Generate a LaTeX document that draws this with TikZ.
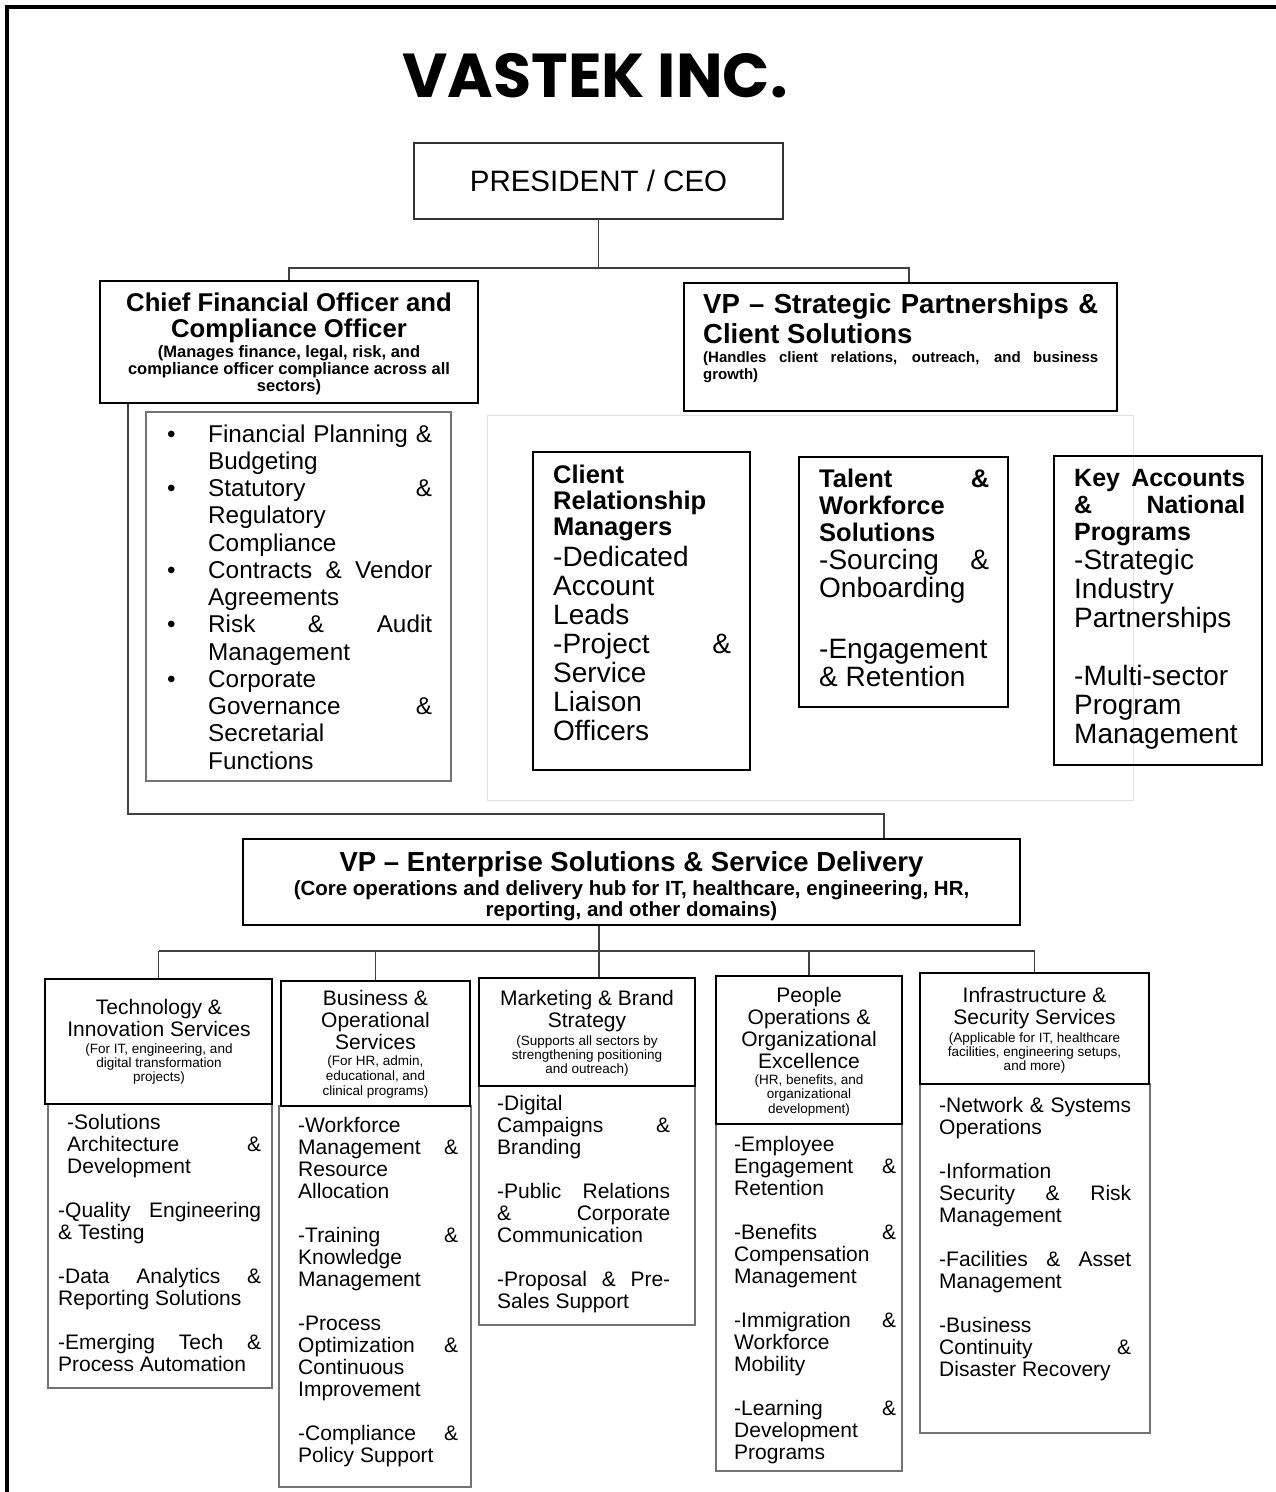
\documentclass[tikz,border=0pt]{standalone}
\usepackage{fontspec}
\setmainfont{Liberation Sans}
\newfontfamily\titlefont{Poppins}
\usetikzlibrary{positioning}

\newcommand\fsz[2]{\fontsize{#1}{#2}\selectfont}
\newcommand\gap{\par\mbox{}\par}
\newcommand\bul{\par\noindent\hangindent=44pt\hangafter=1\makebox[44pt][l]{\hspace{3pt}\textbullet}}

\begin{document}
\begin{tikzpicture}[x=1pt,y=-1pt,
  frame/.style={draw=black, line width=3.5pt},
  topbox/.style={draw=black!80, line width=1.8pt, inner sep=0pt},
  mainbox/.style={draw=black, line width=2.4pt, inner sep=0pt},
  hdrbox/.style={draw=black, line width=2pt, inner sep=0pt, fill=white},
  listbox/.style={draw=black!55, line width=1.2pt, inner sep=0pt},
  conn/.style={draw=black!75, line width=1.5pt},
  txt/.style={inner sep=0pt, anchor=base west},
  ctxt/.style={inner sep=0pt, anchor=base}]

\useasboundingbox (0,0) rectangle (1276,1492);
\clip (0,0) rectangle (1276,1492);
\draw[frame] (7,7) rectangle (1300,1520);

% Title
\node[anchor=base] (title) at (595,97) {\titlefont\bfseries\fsz{62}{64}VASTEK INC.};

% Top level boxes
\node[topbox, minimum width=369pt, minimum height=76pt] (ceo) at (598.5,181) {\fsz{29.5}{30}PRESIDENT / CEO};
\node[mainbox, minimum width=378pt, minimum height=122pt] (cfo) at (289,342) {};
\node[mainbox, minimum width=433pt, minimum height=128pt] (vpsp) at (900.5,347) {};

\node[ctxt] (cfoTxt) at (289,311) {\parbox[t]{370pt}{\centering\bfseries
  \fsz{25.7}{26}Chief Financial Officer and\\Compliance Officer\par
  \vspace{2pt}\fsz{16.5}{17}(Manages finance, legal, risk, and\\compliance officer compliance across all\\sectors)}};
\node[txt] (vpspTxt) at (703,313) {\parbox[t]{395pt}{\bfseries
  \fsz{27.5}{30}VP – Strategic Partnerships \&\linebreak Client Solutions\par
  \vspace{2pt}\fsz{15}{17}(Handles client relations, outreach, and business\linebreak growth)}};

% Reporting lines from the CEO
\draw[conn] (ceo.south) -- ++(0,48) coordinate (split);
\draw[conn] (cfo.north) |- (split) -| ([xshift=8.5pt]vpsp.north);

% CFO duties
\node[listbox, minimum width=305pt, minimum height=369pt] (cfoList) at (298.5,596.5) {};
\node[txt] (cfoListTxt) at (164,442) {\parbox[t]{268pt}{\fsz{24.3}{27.25}%
  \bul Financial Planning \&\linebreak Budgeting
  \bul Statutory \&\linebreak Regulatory\linebreak Compliance
  \bul Contracts \& Vendor\linebreak Agreements
  \bul Risk \& Audit\linebreak Management
  \bul Corporate\linebreak Governance \&\linebreak Secretarial\linebreak Functions}};

% Client solutions group
\node[draw=black!12, line width=1pt, minimum width=646pt, minimum height=385pt, inner sep=0pt] (clientGrp) at (810,607.5) {};
\node[mainbox, minimum width=217pt, minimum height=318pt] (crm) at (641.5,611) {};
\node[mainbox, minimum width=209pt, minimum height=250pt] (talent) at (903.5,582) {};
\node[mainbox, minimum width=208pt, minimum height=309pt] (keyAcc) at (1158,610.5) {};

\node[txt] (crmTxt) at (553,483) {\parbox[t]{178pt}{\bfseries\fsz{25.5}{26}%
  Client\linebreak Relationship\linebreak Managers\par
  \vspace{2pt}\mdseries\fsz{28}{29}-Dedicated\linebreak Account\linebreak Leads\par
  -Project \&\linebreak Service\linebreak Liaison\linebreak Officers}};
\node[txt] (talentTxt) at (819,487) {\parbox[t]{170pt}{\bfseries\fsz{25.5}{27}%
  Talent \&\linebreak Workforce\linebreak Solutions\par
  \mdseries\fsz{28}{28}-Sourcing \&\linebreak Onboarding\par
  \vspace{33pt}-Engagement\linebreak \& Retention}};
\node[txt] (keyAccTxt) at (1074,486) {\parbox[t]{171pt}{\bfseries\fsz{25}{27}%
  Key Accounts\linebreak \& National\linebreak Programs\par
  \mdseries\fsz{28}{29}-Strategic\linebreak Industry\linebreak Partnerships\gap
  -Multi-sector\linebreak Program\linebreak Management}};

% Enterprise delivery
\node[mainbox, minimum width=777pt, minimum height=86pt] (vpe) at (631.5,882) {};
\node[ctxt] (vpeTxt) at (631.5,871.5) {\parbox[t]{760pt}{\centering\bfseries
  \fsz{27.5}{28}VP – Enterprise Solutions \& Service Delivery\par
  \vspace{3pt}\fsz{20.5}{21}(Core operations and delivery hub for IT, healthcare, engineering, HR,\\reporting, and other domains)}};
\draw[conn] ([xshift=-161pt]cfo.south) |- ([xshift=252.5pt,yshift=24pt]vpe.north) -- ([xshift=252.5pt]vpe.north);

% Service lines: detail boxes
\node[listbox, minimum width=224pt, minimum height=284pt] (techList) at (160,1246) {};
\node[listbox, minimum width=192pt, minimum height=381pt] (busList) at (375,1296.5) {};
\node[listbox, minimum width=216pt, minimum height=239pt] (mktList) at (587,1205.5) {};
\node[listbox, minimum width=186pt, minimum height=347pt] (pplList) at (809,1297.5) {};
\node[listbox, minimum width=230pt, minimum height=349pt] (infraList) at (1035,1258.5) {};

% Service lines: headers
\node[hdrbox, minimum width=227pt, minimum height=125pt] (tech) at (158.5,1041.5) {};
\node[hdrbox, minimum width=189pt, minimum height=125pt] (bus) at (375.5,1043.5) {};
\node[hdrbox, minimum width=216pt, minimum height=108pt] (mkt) at (587,1032) {};
\node[hdrbox, minimum width=186pt, minimum height=148pt] (ppl) at (809,1050) {};
\node[hdrbox, minimum width=229pt, minimum height=111pt] (infra) at (1034.5,1028.5) {};

\coordinate (bar) at (0,951);
\draw[conn] ([xshift=-32.5pt]vpe.south) -- ([xshift=12pt]mkt.north);
\draw[conn] (tech.north |- bar) -- (infra.north |- bar);
\foreach \n in {tech,bus,ppl,infra}
  \draw[conn] (\n.north |- bar) -- (\n.north);

\node[ctxt] (techHd) at (159,1014.5) {\parbox[t]{220pt}{\centering\fsz{21}{22}%
  Technology \&\\Innovation Services\par
  \vspace{3pt}\fsz{13.5}{14}(For IT, engineering, and\\digital transformation\\projects)}};
\node[ctxt] (busHd) at (375.5,1005.5) {\parbox[t]{185pt}{\centering\fsz{21}{22}%
  Business \&\\Operational\\Services\par
  \vspace{1pt}\fsz{13.5}{15}(For HR, admin,\\educational, and\\clinical programs)}};
\node[ctxt] (mktHd) at (587,1005.5) {\parbox[t]{210pt}{\centering\fsz{21}{22}%
  Marketing \& Brand\\Strategy\par
  \vspace{3pt}\fsz{13.5}{14}(Supports all sectors by\\strengthening positioning\\and outreach)}};
\node[ctxt] (pplHd) at (809,1002.5) {\parbox[t]{182pt}{\centering\fsz{21}{22}%
  People\\Operations \&\\Organizational\\Excellence\par
  \vspace{1pt}\fsz{13.5}{14.5}(HR, benefits, and\\organizational\\development)}};
\node[ctxt] (infraHd) at (1034.5,1002.5) {\parbox[t]{222pt}{\centering\fsz{21}{22}%
  Infrastructure \&\\Security Services\par
  \vspace{3pt}\fsz{13.5}{14}(Applicable for IT, healthcare\\facilities, engineering setups,\\and more)}};

% Service lines: duties
\node[txt] (techTxt) at (58,1129.5) {\parbox[t]{203pt}{\fsz{21}{22}%
  {\leftskip=9pt -Solutions\linebreak Architecture \&\linebreak Development\par}\gap
  -Quality Engineering\linebreak \& Testing\gap
  -Data Analytics \&\linebreak Reporting Solutions\gap
  -Emerging Tech \&\linebreak Process Automation}};
\node[txt] (busTxt) at (298,1132.5) {\parbox[t]{160pt}{\fsz{21}{22}%
  -Workforce\linebreak Management \&\linebreak Resource\linebreak Allocation\gap
  -Training \&\linebreak Knowledge\linebreak Management\gap
  -Process\linebreak Optimization \&\linebreak Continuous\linebreak Improvement\gap
  -Compliance \&\linebreak Policy Support}};
\node[txt] (mktTxt) at (497,1110.5) {\parbox[t]{173pt}{\fsz{21}{22}%
  -Digital\linebreak Campaigns \&\linebreak Branding\gap
  -Public Relations\linebreak \& Corporate\linebreak Communication\gap
  -Proposal \& Pre-\linebreak Sales Support}};
\node[txt] (pplTxt) at (734,1151.5) {\parbox[t]{162pt}{\fsz{21}{22}%
  -Employee\linebreak Engagement \&\linebreak Retention\gap
  -Benefits \&\linebreak Compensation\linebreak Management\gap
  -Immigration \&\linebreak Workforce\linebreak Mobility\gap
  -Learning \&\linebreak Development\linebreak Programs}};
\node[txt] (infraTxt) at (939,1112.5) {\parbox[t]{192pt}{\fsz{21}{22}%
  -Network \& Systems\linebreak Operations\gap
  -Information\linebreak Security \& Risk\linebreak Management\gap
  -Facilities \& Asset\linebreak Management\gap
  -Business\linebreak Continuity \&\linebreak Disaster Recovery}};

\end{tikzpicture}
\end{document}
